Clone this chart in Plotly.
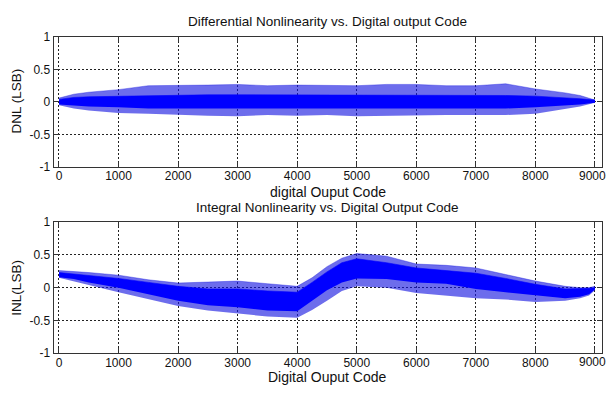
import plotly.graph_objects as go

# ---- data (envelopes of the dense noisy traces) ----
dnl_codes = [0, 250, 500, 1000, 1500, 2000, 2500, 3000, 3500, 4000, 4500, 5000,
             5500, 6000, 6500, 7000, 7500, 8000, 8500, 8750, 9000]
dnl_spike_hi = [0.06, 0.12, 0.15, 0.19, 0.25, 0.25, 0.26, 0.27, 0.25, 0.26, 0.26, 0.25,
                0.27, 0.27, 0.25, 0.25, 0.28, 0.20, 0.14, 0.10, 0.03]
dnl_core_hi = [0.04, 0.07, 0.08, 0.09, 0.10, 0.11, 0.11, 0.11, 0.11, 0.11, 0.11, 0.11,
               0.11, 0.11, 0.11, 0.11, 0.10, 0.09, 0.07, 0.05, 0.03]
dnl_core_lo = [-0.04, -0.06, -0.07, -0.08, -0.10, -0.10, -0.10, -0.10, -0.10, -0.10, -0.10, -0.10,
               -0.10, -0.10, -0.10, -0.10, -0.10, -0.08, -0.05, -0.04, -0.01]
dnl_spike_lo = [-0.05, -0.10, -0.13, -0.17, -0.18, -0.20, -0.21, -0.22, -0.20, -0.21, -0.20, -0.22,
                -0.21, -0.21, -0.20, -0.20, -0.20, -0.18, -0.10, -0.07, -0.01]

inl_codes = [0, 250, 500, 1000, 1500, 2000, 2500, 3000, 3500, 4000, 4250, 4500, 4750,
             5000, 5500, 6000, 6500, 7000, 7500, 8000, 8500, 8750, 8900, 9000]
inl_spike_hi = [0.26, 0.25, 0.23, 0.19, 0.12, 0.07, 0.08, 0.10, 0.06, 0.02, 0.15, 0.32, 0.45,
                0.52, 0.48, 0.36, 0.34, 0.30, 0.20, 0.10, 0.02, 0.00, 0.00, 0.02]
inl_core_hi = [0.23, 0.21, 0.18, 0.14, 0.08, 0.02, -0.02, -0.02, -0.05, -0.07, 0.08, 0.24, 0.38,
               0.44, 0.38, 0.30, 0.26, 0.22, 0.14, 0.05, -0.02, -0.02, -0.01, 0.00]
inl_core_lo = [0.16, 0.13, 0.08, 0.00, -0.10, -0.20, -0.27, -0.30, -0.35, -0.36, -0.20, -0.04, 0.08,
               0.14, 0.13, 0.08, 0.06, -0.02, -0.07, -0.12, -0.16, -0.14, -0.10, -0.03]
inl_spike_lo = [0.15, 0.10, 0.04, -0.07, -0.18, -0.28, -0.35, -0.40, -0.44, -0.46, -0.34, -0.20, -0.05,
                0.02, 0.00, -0.08, -0.12, -0.16, -0.18, -0.22, -0.20, -0.16, -0.12, -0.04]

x_ticks = [0, 1000, 2000, 3000, 4000, 5000, 6000, 7000, 8000, 9000]
x_tick_text = ["0", "1000", "2000", "3000", "4000", "5000", "6000", "7000", "8000", ""]
last_x_label = "9000"
y_ticks = [-1, -0.5, 0, 0.5, 1]
y_tick_text = ["-1", "-0.5", "0", "0.5", "1"]

W, H = 609, 393
BLUE = "#0000FF"
SPIKE = "rgba(20,20,225,0.62)"
FONT = "Liberation Sans, Arial, sans-serif"

fig = go.Figure()


def band(codes, lo, hi, color, xa, ya):
    fig.add_trace(go.Scatter(x=codes, y=lo, mode="lines", line=dict(width=0, color=color),
                             xaxis=xa, yaxis=ya, showlegend=False, hoverinfo="skip"))
    fig.add_trace(go.Scatter(x=codes, y=hi, mode="lines", line=dict(width=0.6, color=color),
                             fill="tonexty", fillcolor=color,
                             xaxis=xa, yaxis=ya, showlegend=False, hoverinfo="skip"))


band(dnl_codes, dnl_spike_lo, dnl_spike_hi, SPIKE, "x", "y")
band(dnl_codes, dnl_core_lo, dnl_core_hi, BLUE, "x", "y")
band(inl_codes, inl_spike_lo, inl_spike_hi, SPIKE, "x2", "y2")
band(inl_codes, inl_core_lo, inl_core_hi, BLUE, "x2", "y2")

xdom = [53.5 / W, 602 / W]
top_dom = [1 - 166 / H, 1 - 31 / H]
bot_dom = [1 - 359 / H, 1 - 223 / H]

axis_common = dict(
    showline=True, mirror="ticks", linecolor="#333", linewidth=1,
    ticks="inside", ticklen=5, tickcolor="#333",
    showgrid=True, gridcolor="#222", griddash="2px,2px", gridwidth=1,
    zeroline=False, tickfont=dict(family=FONT, size=12, color="#111"),
)

fig.update_layout(
    width=W, height=H,
    margin=dict(l=0, r=0, t=0, b=0),
    paper_bgcolor="white", plot_bgcolor="white",
    font=dict(family=FONT, color="#111"),
    xaxis=dict(domain=xdom, range=[-92, 9118], tickvals=x_ticks, ticktext=x_tick_text,
               anchor="y", ticklabelstandoff=-2, **axis_common),
    yaxis=dict(domain=top_dom, range=[-1, 1], tickvals=y_ticks, ticktext=y_tick_text,
               anchor="x", **axis_common),
    xaxis2=dict(domain=xdom, range=[-92, 9118], tickvals=x_ticks, ticktext=x_tick_text,
                anchor="y2", ticklabelstandoff=-2, **axis_common),
    yaxis2=dict(domain=bot_dom, range=[-1, 1], tickvals=y_ticks, ticktext=y_tick_text,
                anchor="x2", **axis_common),
)


def label(text, px, py, size=12.5, angle=0):
    fig.add_annotation(text=text, x=px / W, y=1 - py / H, xref="paper", yref="paper",
                       xanchor="center", yanchor="middle", showarrow=False, textangle=angle,
                       font=dict(family=FONT, size=size, color="#111"))


cx = (53.5 + 602) / 2
label("Differential Nonlinearity vs. Digital output Code", cx, 15, size=13.5)
label("digital Ouput Code", cx, 191.5, size=14)
label("DNL (LSB)", 17, 98, size=13.5, angle=-90)
label("Integral Nonlinearity vs. Digital Output Code", cx, 208, size=13.5)
label("Digital Ouput Code", cx, 384, size=14)
label("INL(LSB)", 17, 291, size=13.5, angle=-90)
label(last_x_label, 592, 175, size=12)
label(last_x_label, 592, 368, size=12)

POST = (
    "document.documentElement.style.margin='0';"
    "document.documentElement.style.overflow='hidden';"
    "document.body.style.margin='0';"
    "document.body.style.overflow='hidden';"
    "var gd=document.getElementById('{plot_id}');"
    "gd.style.display='block';"
    "if(gd.parentElement){gd.parentElement.style.lineHeight='0';"
    "gd.parentElement.style.height='393px';gd.parentElement.style.overflow='hidden';}"
)

fig.write_html("out.html", config={"displayModeBar": False}, post_script=POST)
